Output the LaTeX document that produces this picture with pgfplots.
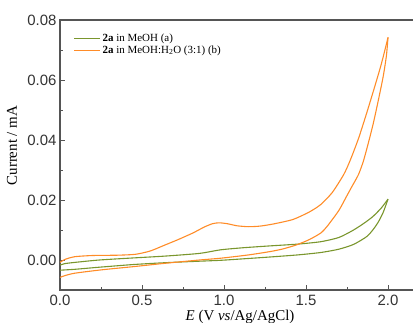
\documentclass[border=0pt]{standalone}
\usepackage{pgfplots}
\pgfplotsset{compat=1.18}
\usepackage{fontspec}
\setmainfont{Liberation Serif}
\setsansfont{Liberation Sans}
\definecolor{cgreen}{RGB}{122,150,45}
\definecolor{corange}{RGB}{255,140,40}
\definecolor{axgray}{RGB}{85,85,85}
\begin{document}
\begin{tikzpicture}
\path (-60bp,-33bp) rectangle (353bp,290bp);
\begin{scope}[overlay]
\begin{axis}[
  at={(0,0)}, anchor=south west,
  scale only axis, width=355.9bp, height=270bp,
  xmin=0, xmax=2.17, ymin=-0.01, ymax=0.08,
  xtick={0,0.5,1,1.5,2}, ytick={0,0.02,0.04,0.06,0.08},
  minor x tick num=1, minor y tick num=1,
  xtick pos=bottom, ytick pos=left, tick align=inside,
  major tick length=5bp, minor tick length=3bp,
  every tick/.style={axgray, line width=0.8bp},
  axis line style={axgray, line width=1.2bp},
  scaled y ticks=false,
  xticklabel shift=1.5bp,
  xticklabel style={/pgf/number format/.cd, fixed, fixed zerofill, precision=1},
  yticklabel style={/pgf/number format/.cd, fixed, fixed zerofill, precision=2},
  tick label style={font=\fontsize{15}{15}\selectfont\sffamily, text=black!80, /pgf/number format/assume math mode=true},
  xlabel={\textit{E} (V \textit{vs}/Ag/AgCl)},
  ylabel={Current / mA},
  label style={font=\fontsize{15}{15}\selectfont},
  xlabel style={at={(axis description cs:0.506,-0.074)}, anchor=north, inner sep=0pt},
  ylabel style={at={(axis description cs:-0.135,0.535)}, anchor=center},
  legend style={at={(axis description cs:0.035,0.962)}, anchor=north west, draw=none, fill=none,
    font=\fontsize{11}{11}\selectfont, row sep=-1bp, inner sep=1bp},
  legend cell align=left,
  legend image code/.code={\draw[#1, line width=1bp] (0bp,0bp) -- (26bp,0bp);},
]
% green (a) forward
\addplot[cgreen, line width=1.1bp, smooth, tension=0.4] coordinates {
(0.0,-0.0017) (0.03,-0.0012) (0.09,-0.0008) (0.24,0.0) (0.45,0.0007) (0.64,0.0013)
(0.85,0.0022) (0.98,0.0034) (1.12,0.0041) (1.28,0.0047) (1.45,0.0053) (1.59,0.0061)
(1.70,0.0075) (1.79,0.0100) (1.86,0.0125) (1.91,0.0146) (1.96,0.0174) (2.0,0.0203)};
\addlegendentry{\textbf{2a} in MeOH (a)}
% orange (b) forward
\addplot[corange, line width=1.1bp, smooth, tension=0.4] coordinates {
(0.0,-0.0008) (0.03,0.0002) (0.09,0.0011) (0.2,0.0015) (0.35,0.0016) (0.46,0.0019)
(0.55,0.0030) (0.64,0.0050) (0.72,0.0068) (0.81,0.0090) (0.88,0.0110) (0.93,0.0121)
(0.97,0.0124) (1.02,0.0121) (1.08,0.0114) (1.15,0.0111) (1.22,0.0113) (1.30,0.0120)
(1.42,0.0135) (1.52,0.0160) (1.59,0.0185) (1.66,0.0225) (1.73,0.0285) (1.77,0.0333)
(1.82,0.0405) (1.87,0.0490) (1.92,0.0580) (1.96,0.0655) (2.0,0.0742)};
\addlegendentry{\textbf{2a} in MeOH:H\textsubscript{2}O (3:1) (b)}
% green (a) return
\addplot[cgreen, line width=1.1bp, smooth, tension=0.4, forget plot] coordinates {
(2.0,0.0203) (1.97,0.0158) (1.94,0.0126) (1.91,0.0102) (1.87,0.0078) (1.79,0.0052)
(1.70,0.0036) (1.59,0.0025) (1.45,0.0017) (1.28,0.0010) (1.12,0.0004) (0.98,-0.0001)
(0.85,-0.0004) (0.64,-0.0009) (0.45,-0.0015) (0.24,-0.0024) (0.09,-0.0031) (0.0,-0.0034)};
% orange (b) return
\addplot[corange, line width=1.1bp, smooth, tension=0.4, forget plot] coordinates {
(2.0,0.0742) (1.99,0.0680) (1.97,0.0610) (1.94,0.0530) (1.91,0.0455) (1.88,0.0390)
(1.85,0.0330) (1.82,0.0285) (1.78,0.0245) (1.75,0.0215) (1.70,0.0165) (1.63,0.0113)
(1.59,0.0090) (1.52,0.0068) (1.44,0.0050) (1.36,0.0037) (1.28,0.0028) (1.15,0.0017)
(0.98,0.0006) (0.85,0.0) (0.64,-0.0011) (0.45,-0.0022) (0.25,-0.0033) (0.09,-0.0044)
(0.03,-0.0052) (0.0,-0.0058)};
\end{axis}
\end{scope}
\end{tikzpicture}
\end{document}
